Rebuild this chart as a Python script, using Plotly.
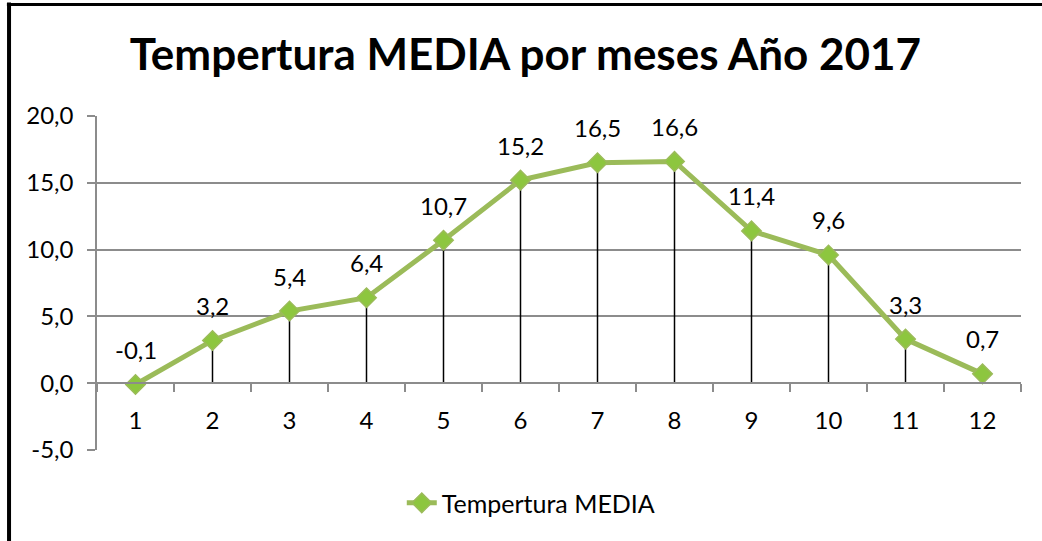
import plotly.graph_objects as go

months = [1, 2, 3, 4, 5, 6, 7, 8, 9, 10, 11, 12]
month_labels = ["1", "2", "3", "4", "5", "6", "7", "8", "9", "10", "11", "12"]
temps = [-0.1, 3.2, 5.4, 6.4, 10.7, 15.2, 16.5, 16.6, 11.4, 9.6, 3.3, 0.7]
y_ticks = [-5, 0, 5, 10, 15, 20]
y_tick_labels = ["-5,0", "0,0", "5,0", "10,0", "15,0", "20,0"]
series_name = "Tempertura MEDIA"
title_text = "Tempertura MEDIA por meses Año 2017"

FONT = "Lato"
GRID = "#8c8c8c"
FS = 24

fig = go.Figure()

# drop lines from 0 to each point
dx, dy = [], []
for m, t in zip(months, temps):
    dx += [m, m, None]
    dy += [0, t, None]
fig.add_trace(go.Scatter(x=dx, y=dy, mode="lines", line=dict(color="black", width=1.5),
                         showlegend=False, hoverinfo="skip"))

fig.add_trace(go.Scatter(
    x=months, y=temps, mode="lines+markers", name=series_name,
    line=dict(color="#9BBB59", width=5),
    marker=dict(symbol="diamond", size=15, color="#8DC63F", line=dict(color="#9BBB59", width=1.5)),
))

for m, t in zip(months, temps):
    fig.add_annotation(x=m, y=t, text=f"{t:.1f}".replace(".", ","), showarrow=False,
                       yshift=35, font=dict(family=FONT, size=FS, color="black"))

half_ticks = [months[0] - 0.5] + [m + 0.5 for m in months]

fig.update_layout(
    width=1042, height=541,
    margin=dict(l=97, r=21, t=116, b=91),
    paper_bgcolor="white", plot_bgcolor="white",
    title=dict(text=f"<b>{title_text}</b>", x=0.4637, xref="paper", xanchor="center",
               y=0.9, yanchor="middle",
               font=dict(family=FONT, size=44, color="black")),
    font=dict(family=FONT, size=FS, color="black"),
    xaxis=dict(range=[0.5, 12.5], showgrid=False, zeroline=False, showline=False,
               showticklabels=False, ticks=""),
    xaxis2=dict(range=[0.5, 12.5], overlaying="x", anchor="free", position=0.2,
                showgrid=False, zeroline=False, showline=True, linecolor=GRID, linewidth=1.5,
                tickvals=months, ticktext=month_labels, ticks="",
                ticklabelstandoff=16,
                minor=dict(tickvals=half_ticks, ticks="outside", ticklen=8, tickcolor=GRID, tickwidth=1.5),
                tickfont=dict(family=FONT, size=FS, color="black")),
    yaxis=dict(range=[-5, 20], tickvals=y_ticks, ticktext=y_tick_labels, showgrid=True, gridcolor=GRID,
               gridwidth=1.5, zeroline=False, showline=True, linecolor=GRID, linewidth=1.5,
               ticks="outside", ticklen=8, tickcolor=GRID, tickwidth=1.5, ticklabelstandoff=9,
               tickfont=dict(family=FONT, size=FS, color="black")),
    legend=dict(orientation="h", x=0.47, xanchor="center", y=-0.159, yanchor="middle",
                font=dict(family=FONT, size=25, color="black"), bgcolor="rgba(0,0,0,0)"),
    showlegend=True,
)

# dummy trace to activate xaxis2
fig.add_trace(go.Scatter(x=[months[0]], y=[temps[0]], xaxis="x2", mode="markers",
                         marker=dict(opacity=0), showlegend=False, hoverinfo="skip"))

# frame lines (left and top)
fig.add_shape(type="line", xref="paper", yref="paper", x0=-0.0952, x1=-0.0952, y0=-0.28, y1=1.34,
              line=dict(color="black", width=4))
fig.add_shape(type="line", xref="paper", yref="paper", x0=-0.0975, x1=1.03, y0=1.3338, y1=1.3338,
              line=dict(color="black", width=3))

fig.write_html("out.html", config={"displayModeBar": False},
               post_script="document.body.style.margin='0';document.body.style.overflow='hidden';")
